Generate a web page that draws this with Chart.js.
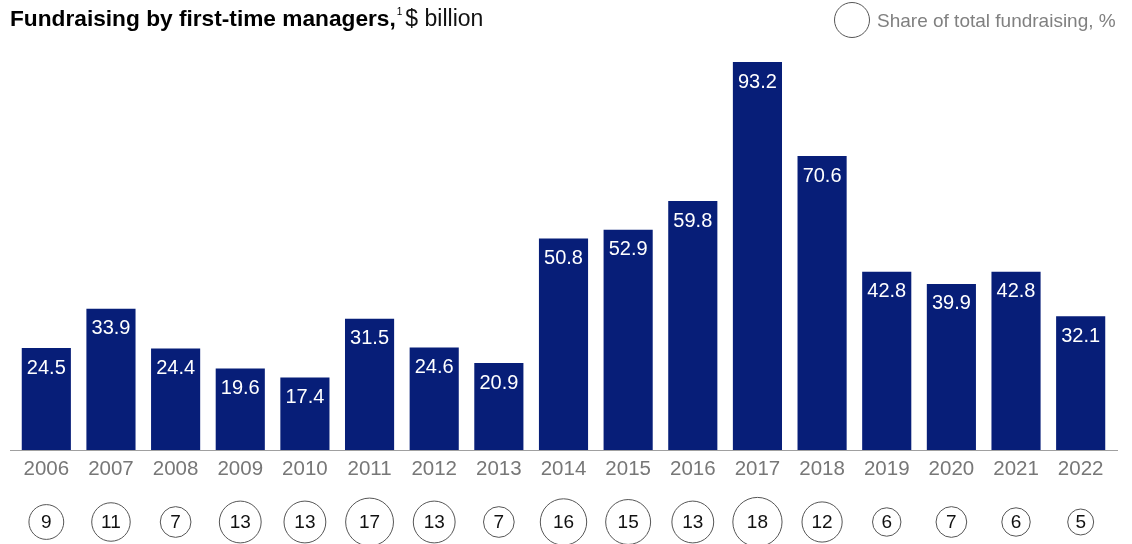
<!DOCTYPE html>
<html>
<head>
<meta charset="utf-8">
<script src="https://cdn.jsdelivr.net/npm/chart.js@4"></script>
<style>
  html, body { margin: 0; padding: 0; background: #fff; }
  #wrap { position: relative; width: 1132px; height: 544px; }
</style>
</head>
<body>
<div id="wrap"><canvas id="chart" width="1132" height="544"></canvas></div>
<script>
// Fundraising by first-time managers, $ billion + share of total (%)
const years = ['2006', '2007', '2008', '2009', '2010', '2011', '2012', '2013', '2014',
               '2015', '2016', '2017', '2018', '2019', '2020', '2021', '2022'];
const fundraising = [24.5, 33.9, 24.4, 19.6, 17.4, 31.5, 24.6, 20.9, 50.8,
                     52.9, 59.8, 93.2, 70.6, 42.8, 39.9, 42.8, 32.1];
const sharePct = [9, 11, 7, 13, 13, 17, 13, 7, 16, 15, 13, 18, 12, 6, 7, 6, 5];

const FONT = '"Liberation Sans", Arial, sans-serif';
const NAVY = '#071e78';

const overlay = {
    id: 'overlay',
    afterDatasetsDraw(chart) {
        const ctx = chart.ctx;
        const area = chart.chartArea;
        const xs = chart.scales.x;
        const bars = chart.getDatasetMeta(0).data;

        ctx.save();

        // baseline
        ctx.strokeStyle = '#a0a0a0';
        ctx.lineWidth = 1;
        ctx.beginPath();
        ctx.moveTo(area.left - 4, area.bottom + 0.5);
        ctx.lineTo(area.right + 5, area.bottom + 0.5);
        ctx.stroke();

        // value labels inside bars
        ctx.fillStyle = '#ffffff';
        ctx.font = '20px ' + FONT;
        ctx.textAlign = 'center';
        ctx.textBaseline = 'middle';
        bars.forEach((b, i) => {
            ctx.fillText(fundraising[i].toFixed(1), b.x, b.y + 20);
        });

        // year labels
        ctx.fillStyle = '#777777';
        ctx.font = '20.5px ' + FONT;
        years.forEach((y, i) => {
            ctx.fillText(y, xs.getPixelForValue(i), area.bottom + 19);
        });

        // share circles (area proportional)
        const cy = area.bottom + 72;
        sharePct.forEach((v, i) => {
            const cx = xs.getPixelForValue(i);
            const r = 5.8 * Math.sqrt(v);
            ctx.strokeStyle = '#555555';
            ctx.lineWidth = 1;
            ctx.beginPath();
            ctx.arc(cx, cy, r, 0, Math.PI * 2);
            ctx.stroke();
            ctx.fillStyle = '#111111';
            ctx.font = '19px ' + FONT;
            ctx.fillText(String(v), cx, cy + 1);
        });

        // title
        ctx.textAlign = 'left';
        ctx.textBaseline = 'alphabetic';
        ctx.fillStyle = '#000000';
        ctx.font = 'bold 22.7px ' + FONT;
        const t1 = 'Fundraising by first-time managers,';
        ctx.fillText(t1, 10, 26);
        let x = 10 + ctx.measureText(t1).width + 1;
        ctx.font = '10px ' + FONT;
        ctx.fillText('1', x, 15);
        x += ctx.measureText('1').width + 3;
        ctx.font = '23px ' + FONT;
        ctx.fillStyle = '#111111';
        ctx.fillText('$ billion', x, 26);

        // legend
        ctx.strokeStyle = '#555555';
        ctx.beginPath();
        ctx.arc(852, 20, 17.5, 0, Math.PI * 2);
        ctx.stroke();
        ctx.fillStyle = '#808080';
        ctx.font = '19px ' + FONT;
        ctx.fillText('Share of total fundraising, %', 877, 27);

        ctx.restore();
    }
};

new Chart(document.getElementById('chart').getContext('2d'), {
    type: 'bar',
    data: {
        labels: years,
        datasets: [{
            data: fundraising,
            backgroundColor: NAVY,
            borderWidth: 0,
            categoryPercentage: 1,
            barPercentage: 0.76
        }]
    },
    options: {
        responsive: false,
        animation: false,
        layout: { padding: { left: 14, right: 19, top: 62, bottom: 94 } },
        scales: {
            x: { display: false },
            y: { display: false, min: 0, max: 93.2 }
        },
        plugins: {
            legend: { display: false },
            tooltip: { enabled: false }
        }
    },
    plugins: [overlay]
});
</script>
</body>
</html>
